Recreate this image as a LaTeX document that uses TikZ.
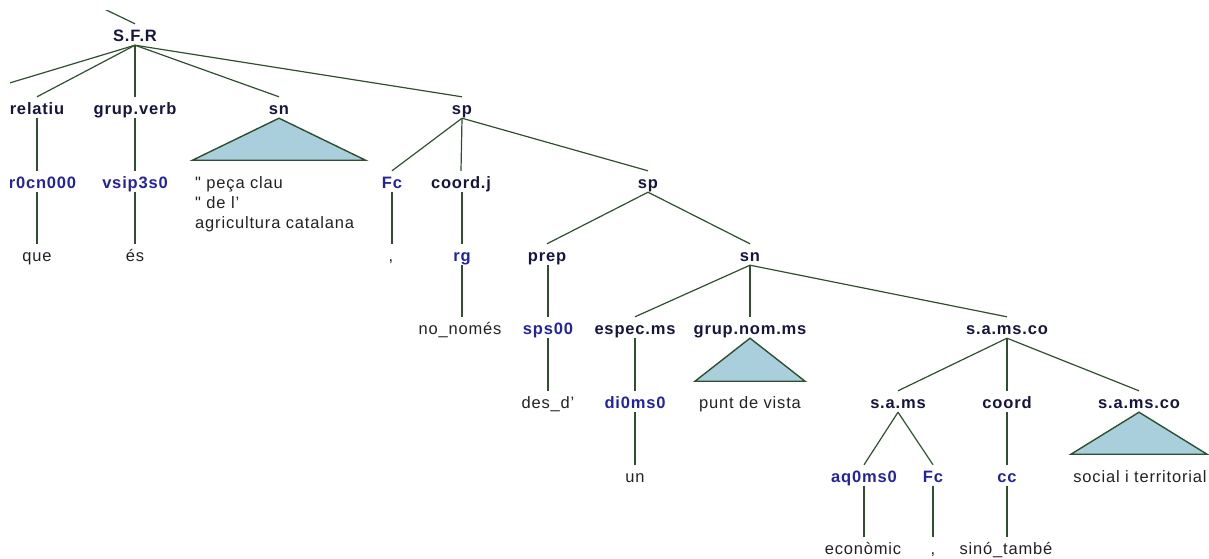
\documentclass[tikz,border=0pt]{standalone}
\usepackage{fontspec}
\setmainfont{Liberation Sans}
\newfontfamily\treefont[LetterSpace=5]{Liberation Sans}
\definecolor{catcol}{HTML}{15153F}
\definecolor{tagcol}{HTML}{2323A0}
\definecolor{wordcol}{HTML}{222222}
\definecolor{linecol}{HTML}{2F4F2F}
\definecolor{trifill}{HTML}{A9CFDD}
\tikzset{
  lbl/.style={inner sep=0pt, text height=17pt, text depth=4pt, anchor=base},
  cat/.style={lbl, font=\treefont\bfseries\fontsize{16.5}{20}\selectfont, text=catcol},
  tag/.style={lbl, font=\treefont\bfseries\fontsize{16.5}{20}\selectfont, text=tagcol},
  word/.style={lbl, font=\treefont\fontsize{16.5}{20}\selectfont, text=wordcol},
  edge/.style={draw=linecol, line width=1.2pt},
  tri/.style={draw=linecol, line width=1.4pt, fill=trifill, line join=miter}
}
\begin{document}
\begin{tikzpicture}[x=1pt,y=-1pt]
\useasboundingbox (0,0) rectangle (1209,558);
\begin{scope}
\clip (10,10) rectangle (1209,558);
% level 0
\node[cat] (root) at (135,41) {S.F.R};
\coordinate (topc) at (-39,-60);
% level 1
\coordinate (leftc) at (-37,97);
\node[cat] (relatiu) at (37,114) {relatiu};
\node[cat] (grupverb) at (135,114) {grup.verb};
\node[cat] (sn1) at (279,114) {sn};
\node[cat] (sp1) at (462,114) {sp};
% level 2
\node[tag] (pr) at (37,188) {pr0cn000};
\node[tag] (vsip) at (135,188) {vsip3s0};
\node[word, anchor=base west] (pc1) at (195,188) {" peça clau};
\node[word, anchor=base west] (pc2) at (195,208) {" de l’};
\node[word, anchor=base west] (pc3) at (195,228) {agricultura catalana};
\node[tag] (fc1) at (392,188) {Fc};
\node[cat] (coordj) at (461,188) {coord.j};
\node[cat] (sp2) at (648,188) {sp};
% level 3
\node[word] (que) at (37,261) {que};
\node[word] (es) at (135,261) {és};
\node[word] (comma1) at (391,261) {,};
\node[tag] (rg) at (462,261) {rg};
\node[cat] (prep) at (547,261) {prep};
\node[cat] (sn2) at (750,261) {sn};
% level 4
\node[word] (nonomes) at (460,334) {no\_només};
\node[tag] (sps) at (548,334) {sps00};
\node[cat] (espec) at (635,334) {espec.ms};
\node[cat] (gnom) at (750,334) {grup.nom.ms};
\node[cat] (samsco) at (1007,334) {s.a.ms.co};
% level 5
\node[word] (desd) at (548,408) {des\_d’};
\node[tag] (di0) at (635,408) {di0ms0};
\node[word] (punt) at (750,408) {punt de vista};
\node[cat] (sams) at (898,408) {s.a.ms};
\node[cat] (coord) at (1007,408) {coord};
\node[cat] (samsco2) at (1139,408) {s.a.ms.co};
% level 6
\node[word] (un) at (635,482) {un};
\node[tag] (aq) at (864,482) {aq0ms0};
\node[tag] (fc2) at (933,482) {Fc};
\node[tag] (cc) at (1007,482) {cc};
\node[word] (social) at (1140,482) {social i territorial};
% level 7
\node[word] (economic) at (863,554) {econòmic};
\node[word] (comma2) at (933,554) {,};
\node[word] (sino) at (1006,554) {sinó\_també};
% edges
\draw[edge] (root.north) -- (topc);
\draw[edge] (root.south) -- (leftc);
\foreach \c in {relatiu,grupverb,sn1,sp1} \draw[edge] (root.south) -- (\c.north);
\draw[edge] (relatiu.south) -- (pr.north);
\draw[edge] (pr.south) -- (que.north);
\draw[edge] (grupverb.south) -- (vsip.north);
\draw[edge] (vsip.south) -- (es.north);
\draw[tri] (sn1.south) -- ++(-86.5,42) -- ++(173,0) -- cycle;
\foreach \c in {fc1,coordj,sp2} \draw[edge] (sp1.south) -- (\c.north);
\draw[edge] (fc1.south) -- (comma1.north -| fc1.south);
\draw[edge] (coordj.south -| rg.north) -- (rg.north);
\draw[edge] (rg.south) -- (nonomes.north -| rg.south);
\draw[edge] (sp2.south) -- (prep.north);
\draw[edge] (sp2.south) -- (sn2.north);
\draw[edge] (prep.south -| sps.north) -- (sps.north);
\draw[edge] (sps.south) -- (desd.north);
\foreach \c in {espec,gnom,samsco} \draw[edge] (sn2.south) -- (\c.north);
\draw[edge] (espec.south) -- (di0.north);
\draw[edge] (di0.south) -- (un.north);
\draw[tri] (gnom.south) -- ++(-55,43) -- ++(110,0) -- cycle;
\foreach \c in {sams,coord,samsco2} \draw[edge] (samsco.south) -- (\c.north);
\draw[edge] (sams.south) -- (aq.north);
\draw[edge] (sams.south) -- (fc2.north);
\draw[edge] (aq.south) -- (economic.north -| aq.south);
\draw[edge] (fc2.south) -- (comma2.north);
\draw[edge] (coord.south) -- (cc.north);
\draw[edge] (cc.south) -- (sino.north -| cc.south);
\draw[tri] (samsco2.south) -- ++(-68,42) -- ++(136,0) -- cycle;
\end{scope}
\end{tikzpicture}
\end{document}
